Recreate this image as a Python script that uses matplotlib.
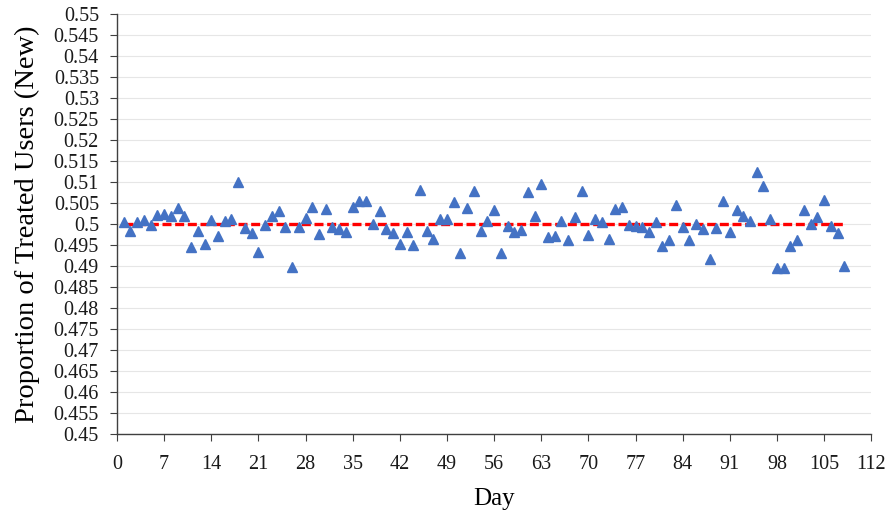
import numpy as np
import matplotlib
matplotlib.use('Agg')
import matplotlib.pyplot as plt
from matplotlib.ticker import MultipleLocator, FuncFormatter

plt.rcParams['font.family'] = ['Liberation Serif', 'DejaVu Serif']

days = np.arange(1, 109)
proportion = [
    0.5005, 0.4984, 0.5004, 0.5010, 0.4998, 0.5021, 0.5025, 0.5018, 0.5039, 0.5018,
    0.4945, 0.4983, 0.4953, 0.5009, 0.4972, 0.5006, 0.5013, 0.5101, 0.4990, 0.4979,
    0.4934, 0.4997, 0.5019, 0.5031, 0.4993, 0.4898, 0.4994, 0.5014, 0.5040, 0.4976,
    0.5035, 0.4994, 0.4987, 0.4980, 0.5041, 0.5055, 0.5054, 0.4999, 0.5032, 0.4989,
    0.4979, 0.4952, 0.4981, 0.4949, 0.5081, 0.4984, 0.4964, 0.5012, 0.5012, 0.5053,
    0.4930, 0.5037, 0.5079, 0.4984, 0.5006, 0.5033, 0.4932, 0.4996, 0.4982, 0.4986,
    0.5077, 0.5019, 0.5096, 0.4969, 0.4971, 0.5008, 0.4963, 0.5017, 0.5079, 0.4973,
    0.5013, 0.5005, 0.4964, 0.5036, 0.5040, 0.4997, 0.4996, 0.4992, 0.4980, 0.5005,
    0.4948, 0.4963, 0.5046, 0.4992, 0.4963, 0.5000, 0.4989, 0.4917, 0.4990, 0.5054,
    0.4980, 0.5034, 0.5020, 0.5006, 0.5123, 0.5090, 0.5011, 0.4896, 0.4896, 0.4948,
    0.4963, 0.5034, 0.5001, 0.5017, 0.5058, 0.4995, 0.4979, 0.4901,
]
target = 0.5

fig = plt.figure(figsize=(8.89, 5.14), dpi=100)
ax = fig.add_axes([0.1316, 0.1556, 0.8484, 0.8172])

ax.plot(days, proportion, linestyle='none', marker='^', markersize=6.5,
        color='#4472C4', zorder=3)
ax.plot([days[0], days[-1]], [target, target], color='#FF0000',
        linestyle=(0, (2.7, 1.1)), linewidth=2.4, zorder=2)

ax.set_xlim(0, 112)
ax.set_ylim(0.45, 0.55)
ax.xaxis.set_major_locator(MultipleLocator(7))
ax.yaxis.set_major_locator(MultipleLocator(0.005))
ax.yaxis.set_major_formatter(FuncFormatter(lambda v, p: '%g' % round(v, 4)))

ax.grid(axis='y', color='#E6E6E6', linewidth=0.8)
ax.set_axisbelow(True)
for s in ['top', 'right']:
    ax.spines[s].set_visible(False)
for s in ['left', 'bottom']:
    ax.spines[s].set_color('#404040')
    ax.spines[s].set_linewidth(1.0)
ax.tick_params(direction='out', length=5, color='#404040', labelsize=14.5,
               labelcolor='#1a1a1a')
ax.tick_params(axis='y', pad=8)
ax.tick_params(axis='x', pad=10)

ax.set_xlabel('Day', fontsize=18, labelpad=10)
ax.set_ylabel('Proportion of Treated Users (New)', fontsize=20.5, labelpad=10)

fig.savefig('out.png', dpi=100)
